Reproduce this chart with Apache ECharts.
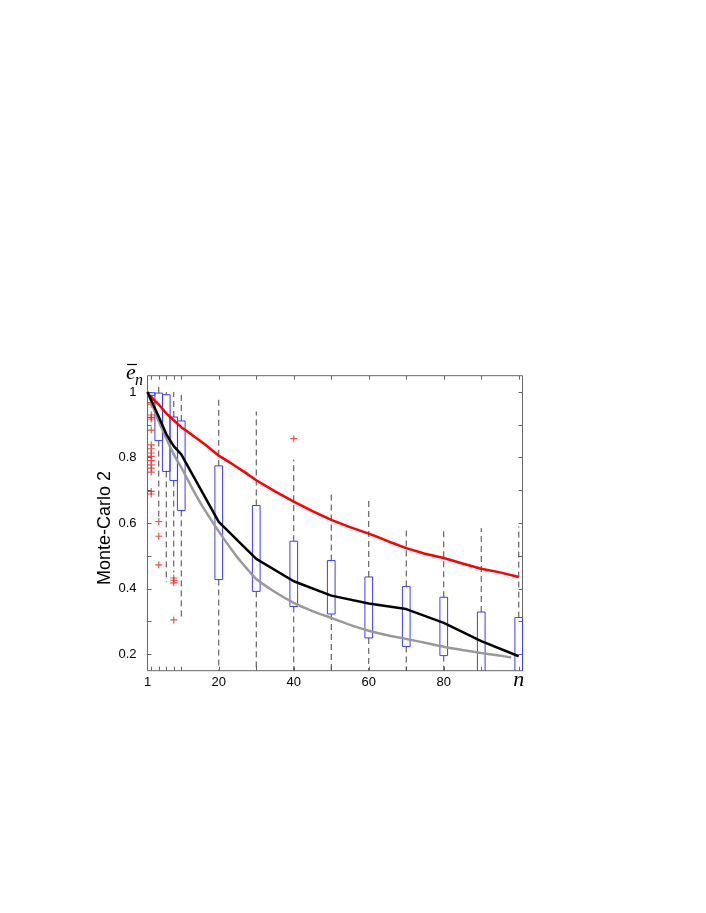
<!DOCTYPE html>
<html>
<head>
<meta charset="utf-8">
<script src="https://cdn.jsdelivr.net/npm/echarts@6/dist/echarts.min.js"></script>
<style>
html,body{margin:0;padding:0;background:#fff;}
#chart{width:706px;height:913px;}
</style>
</head>
<body>
<div id="chart"></div>
<script>
// ---- data ----
const boxN    = [2, 4, 6, 8, 10, 20, 30, 40, 50, 60, 70, 80, 90, 100];
const boxLow  = [0.990, 0.615, 0.420, 0.450, 0.305, 0.10, 0.10, 0.10, 0.10, 0.10, 0.10, 0.10, 0.10, 0.10];
const boxQ1   = [0.990, 0.852, 0.758, 0.730, 0.639, 0.428, 0.392, 0.346, 0.323, 0.250, 0.224, 0.196, 0.12, 0.12];
const boxQ3   = [0.998, 0.997, 0.992, 0.924, 0.912, 0.775, 0.654, 0.545, 0.486, 0.436, 0.407, 0.374, 0.329, 0.312];
const boxHigh = [0.998, 1.017, 1.000, 1.000, 0.998, 0.977, 0.941, 0.794, 0.689, 0.672, 0.590, 0.585, 0.585, 0.590];

const outN = [2,2,2,2,2,2,2,2,2,2,2,2,2,2,2,2, 4,4,4, 8,8,8,8, 40];
const outV = [0.968,0.963,0.930,0.923,0.918,0.884,0.839,0.827,0.814,0.804,0.791,0.778,0.768,0.756,0.697,0.689,
              0.605,0.560,0.473, 0.433,0.426,0.418,0.305, 0.858];

const redN = [1,2,4,6,8,10,12,14,16,18,20,23,25,27,30,35,40,45,50,55,60,63,66,70,75,80,85,90,95,100];
const redV = [0.995,0.985,0.962,0.935,0.914,0.893,0.877,0.860,0.843,0.825,0.806,0.785,0.770,0.755,0.731,0.697,0.666,0.637,0.610,0.588,0.568,0.555,0.541,0.524,0.507,0.494,0.477,0.461,0.450,0.436];

const blackN = [1,2,4,6,8,10,20,30,40,50,60,70,80,90,100];
const blackV = [1.000,0.975,0.925,0.872,0.835,0.810,0.604,0.491,0.423,0.379,0.355,0.338,0.296,0.240,0.194];

const grayN = [1,2,4,6,8,10,13,16,20,25,28,30,35,40,45,50,55,60,65,70,75,80,85,90,95,98];
const grayV = [1.000,0.970,0.910,0.860,0.810,0.770,0.705,0.645,0.575,0.495,0.455,0.430,0.390,0.357,0.332,0.311,0.290,0.272,0.258,0.247,0.235,0.223,0.213,0.204,0.196,0.190];

const xLabelVals = [1, 20, 40, 60, 80, 100];
const xTickVals  = [2, 4, 6, 8, 10, 20, 30, 40, 50, 60, 70, 80, 90, 100];
const yLabelVals = [0.2, 0.4, 0.6, 0.8, 1.0];
const yTickVals  = [0.2, 0.3, 0.4, 0.5, 0.6, 0.7, 0.8, 0.9, 1.0];

// ---- build ----
const zip = (a, b) => a.map((v, i) => [v, b[i]]);
const boxData = boxN.map((n, i) => [n, boxLow[i], boxQ1[i], boxQ3[i], boxHigh[i]]);

const frameColor = '#666';
const labelFont = 'Liberation Sans';

const chart = echarts.init(document.getElementById('chart'), null, {renderer: 'canvas'});

function renderBox(params, api) {
  const x = api.value(0), lo = api.value(1), q1 = api.value(2), q3 = api.value(3), hi = api.value(4);
  const pTop = api.coord([x, q3]);
  const pBot = api.coord([x, q1]);
  const pHi = api.coord([x, hi]);
  const pLo = api.coord([x, lo]);
  const hw = 3.85;
  const dashStyle = {stroke: '#444', lineWidth: 1, lineDash: [6, 4], fill: null};
  const children = [];
  if (pHi[1] < pTop[1] - 0.5) {
    children.push({type: 'line', shape: {x1: pTop[0], y1: pTop[1], x2: pHi[0], y2: pHi[1]}, style: dashStyle});
  }
  if (pLo[1] > pBot[1] + 0.5) {
    children.push({type: 'line', shape: {x1: pBot[0], y1: pBot[1], x2: pLo[0], y2: pLo[1]}, style: dashStyle});
  }
  children.push({
    type: 'rect',
    shape: {x: pTop[0] - hw, y: pTop[1], width: 2 * hw, height: Math.max(pBot[1] - pTop[1], 0.5)},
    style: {fill: null, stroke: '#3c3cff', lineWidth: 1}
  });
  return {type: 'group', children};
}

const option = {
  backgroundColor: '#fff',
  animation: false,
  grid: {left: 147.5, top: 375.7, width: 375, height: 295, show: true, borderColor: frameColor, borderWidth: 1, backgroundColor: 'transparent'},
  xAxis: [{
    type: 'value', min: 1, max: 101, position: 'bottom',
    splitLine: {show: false},
    axisLine: {show: false},
    axisTick: {show: true, inside: true, length: 4, customValues: xTickVals, lineStyle: {color: frameColor}},
    axisLabel: {
      show: true, customValues: xLabelVals, margin: 5, color: '#000',
      fontFamily: labelFont, fontSize: 13,
      formatter: v => (v === 100 ? '{n|n}' : String(v)),
      rich: {n: {fontFamily: 'Liberation Serif', fontStyle: 'italic', fontSize: 22, lineHeight: 14, color: '#000', padding: [-4, 0, 0, 0]}}
    }
  }, {
    type: 'value', min: 1, max: 101, position: 'top',
    splitLine: {show: false}, axisLine: {show: false},
    axisTick: {show: true, inside: true, length: 4, customValues: xTickVals, lineStyle: {color: frameColor}},
    axisLabel: {show: false}
  }],
  yAxis: [{
    type: 'value', min: 0.15, max: 1.05, position: 'left',
    splitLine: {show: false}, axisLine: {show: false},
    axisTick: {show: true, inside: true, length: 4, customValues: yTickVals, lineStyle: {color: frameColor}},
    axisLabel: {
      show: true, customValues: yLabelVals, margin: 11, color: '#000',
      fontFamily: labelFont, fontSize: 13,
      formatter: v => (Math.abs(v - 1) < 1e-9 ? '1' : v.toFixed(1))
    }
  }, {
    type: 'value', min: 0.15, max: 1.05, position: 'right',
    splitLine: {show: false}, axisLine: {show: false},
    axisTick: {show: true, inside: true, length: 4, customValues: yTickVals, lineStyle: {color: frameColor}},
    axisLabel: {show: false}
  }],
  graphic: [
    {type: 'text', x: 105, y: 528, rotation: Math.PI / 2,
     style: {text: 'Monte-Carlo 2', font: '18px "Liberation Sans"', fill: '#000', align: 'center', verticalAlign: 'middle'}},
    {type: 'text', x: 126, y: 373,
     style: {text: 'e', font: 'italic 22px "Liberation Serif"', fill: '#000', align: 'left', verticalAlign: 'middle'}},
    {type: 'text', x: 135, y: 381,
     style: {text: 'n', font: 'italic 16px "Liberation Serif"', fill: '#000', align: 'left', verticalAlign: 'middle'}},
    {type: 'line', shape: {x1: 127, y1: 364.5, x2: 137, y2: 364.5}, style: {stroke: '#000', lineWidth: 1.2}}
  ],
  series: [
    {
      type: 'custom', name: 'boxes', xAxisIndex: 0, yAxisIndex: 0,
      renderItem: renderBox, clip: true,
      encode: {x: 0, y: [1, 2, 3, 4]},
      data: boxData, z: 2
    },
    {
      type: 'scatter', name: 'outliers', data: zip(outN, outV),
      symbol: 'path://M4.2,0h1.6v10h-1.6zM0,4.2h10v1.6h-10z', symbolSize: 7,
      itemStyle: {color: '#ff1a1a'}, z: 3, silent: true
    },
    {
      type: 'line', name: 'red', data: zip(redN, redV), showSymbol: false, symbol: 'none',
      lineStyle: {color: '#ff0000', width: 2.5}, z: 4, clip: true
    },
    {
      type: 'line', name: 'gray', data: zip(grayN, grayV), showSymbol: false, symbol: 'none', smooth: 0.3,
      lineStyle: {color: '#999999', width: 2.5}, z: 5, clip: true
    },
    {
      type: 'line', name: 'black', data: zip(blackN, blackV), showSymbol: false, symbol: 'none',
      lineStyle: {color: '#000', width: 2.5}, z: 6, clip: true
    }
  ]
};
chart.setOption(option);
</script>
</body>
</html>
